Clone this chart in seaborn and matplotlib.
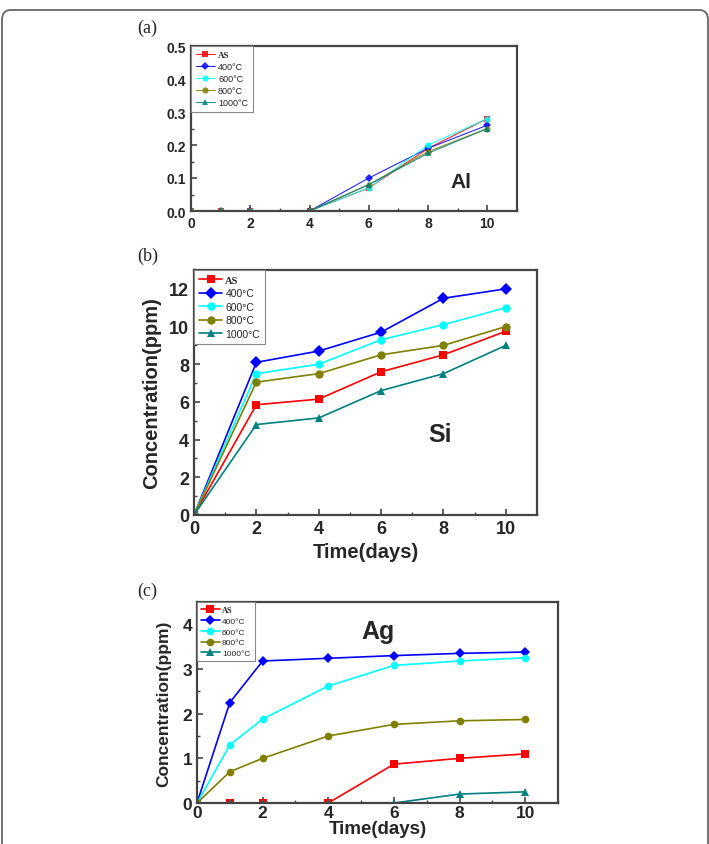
import matplotlib.pyplot as plt
import pandas as pd
import seaborn as sns
from matplotlib.patches import FancyBboxPatch
from matplotlib.ticker import MultipleLocator

# series shared by all three panels
series = ['AS', '400°C', '600°C', '800°C', '1000°C']
colors = ['#ff0000', '#0000ff', '#00ffff', '#808000', '#008080']
markers = ['s', 'D', 'o', 'o', '^']

# (a) Al release
al_days = [0, 1, 2, 4, 6, 8, 10]
al_as = [0, 0, 0, 0, 0.07, 0.19, 0.28]
al_400 = [0, 0, 0, 0, 0.10, 0.19, 0.26]
al_600 = [0, 0, 0, 0, 0.07, 0.20, 0.28]
al_800 = [0, 0, 0, 0, 0.08, 0.18, 0.25]
al_1000 = [0, 0, 0, 0, 0.08, 0.175, 0.25]

# (b) Si release
si_days = [0, 2, 4, 6, 8, 10]
si_as = [0, 5.85, 6.15, 7.6, 8.5, 9.75]
si_400 = [0, 8.1, 8.7, 9.7, 11.5, 12.0]
si_600 = [0, 7.5, 8.0, 9.3, 10.1, 11.0]
si_800 = [0, 7.05, 7.5, 8.5, 9.0, 10.0]
si_1000 = [0, 4.8, 5.15, 6.6, 7.5, 9.0]

# (c) Ag release
ag_days = [0, 1, 2, 4, 6, 8, 10]
ag_as = [0, 0, 0, 0, 0.87, 1.0, 1.1]
ag_400 = [0, 2.25, 3.18, 3.24, 3.3, 3.35, 3.38]
ag_600 = [0, 1.3, 1.88, 2.62, 3.08, 3.18, 3.25]
ag_800 = [0, 0.7, 1.0, 1.5, 1.76, 1.84, 1.87]
ag_1000 = [0, 0, 0, 0, 0, 0.2, 0.25]

sns.set_style('white')
plt.rcParams['font.family'] = ['Liberation Sans', 'DejaVu Sans']
plt.rcParams['font.weight'] = 'bold'


# long table for one panel
def make_df(days, values):
    rows = []
    for name, vals in zip(series, values):
        for d, v in zip(days, vals):
            rows.append({'day': d, 'conc': v, 'series': name})
    return pd.DataFrame(rows)


def draw_panel(ax, days, values, ms, lw, legend_fs, tick_fs, ymax, ymajor, yminor, alpha=1.0):
    df = make_df(days, values)
    sns.lineplot(
        data=df, x='day', y='conc',
        hue='series', style='series',
        hue_order=series, style_order=series,
        palette=dict(zip(series, colors)),
        markers=dict(zip(series, markers)),
        dashes=False, markersize=ms, linewidth=lw,
        markeredgewidth=0, alpha=alpha, ax=ax
    )
    ax.set_xlim(0, 11)
    ax.set_ylim(0, ymax)
    ax.xaxis.set_major_locator(MultipleLocator(2))
    ax.xaxis.set_minor_locator(MultipleLocator(1))
    ax.yaxis.set_major_locator(MultipleLocator(ymajor))
    ax.yaxis.set_minor_locator(MultipleLocator(yminor))
    ax.tick_params(which='both', direction='in', bottom=True, left=True,
                   top=False, right=False, labelsize=tick_fs, color='#444')
    ax.tick_params(which='major', length=4, width=1.2)
    ax.tick_params(which='minor', length=2, width=1)
    for s in ax.spines.values():
        s.set_color('#444')
        s.set_linewidth(1.6)
    for lab in ax.get_xticklabels() + ax.get_yticklabels():
        lab.set_fontweight('bold')
    ax.set_xlabel('')
    ax.set_ylabel('')

    sns.move_legend(ax, 'upper left', bbox_to_anchor=(0, 1), borderaxespad=0,
                    title=None, fontsize=legend_fs, frameon=True, fancybox=False,
                    edgecolor='#888', framealpha=1, handlelength=2.2,
                    labelspacing=0.35, handletextpad=0.3, borderpad=0.5)
    leg = ax.get_legend()
    leg.get_frame().set_linewidth(0.8)
    for t in leg.get_texts():
        t.set_fontweight('normal')
    leg.get_texts()[0].set_fontfamily('Liberation Serif')
    leg.get_texts()[0].set_fontweight('bold')


fig = plt.figure(figsize=(7.09, 8.45), dpi=100)
W, H = 709, 845


def add_axes(left, top, right, bottom):
    return fig.add_axes([left / W, 1 - bottom / H, (right - left) / W, (bottom - top) / H])


ax_a = add_axes(191, 47, 517, 212)
ax_b = add_axes(194, 271, 537, 516)
ax_c = add_axes(197, 603, 558, 804)

draw_panel(ax_a, al_days, [al_as, al_400, al_600, al_800, al_1000],
           ms=4.5, lw=0.8, legend_fs=6.5, tick_fs=10, ymax=0.5, ymajor=0.1, yminor=0.05, alpha=0.85)
ax_a.yaxis.set_major_formatter(plt.FormatStrFormatter('%.1f'))
ax_a.text(9.1, 0.09, 'Al', fontsize=15, fontweight='bold', ha='center', va='center')

draw_panel(ax_b, si_days, [si_as, si_400, si_600, si_800, si_1000],
           ms=6, lw=1.2, legend_fs=7.5, tick_fs=13, ymax=13, ymajor=2, yminor=1)
ax_b.set_xlabel('Time(days)', fontsize=14.5, fontweight='bold', labelpad=4)
ax_b.set_ylabel('Concentration(ppm)', fontsize=14.5, fontweight='bold', labelpad=6)
ax_b.text(7.9, 4.3, 'Si', fontsize=18, fontweight='bold', ha='center', va='center')

draw_panel(ax_c, ag_days, [ag_as, ag_400, ag_600, ag_800, ag_1000],
           ms=5.5, lw=1.2, legend_fs=6, tick_fs=12.5, ymax=4.5, ymajor=1, yminor=0.5)
ax_c.tick_params(axis='x', pad=1.5)
ax_c.set_xlabel('Time(days)', fontsize=13.5, fontweight='bold', labelpad=0)
ax_c.set_ylabel('Concentration(ppm)', fontsize=12.5, fontweight='bold', labelpad=8)
ax_c.text(5.5, 3.84, 'Ag', fontsize=18, fontweight='bold', ha='center', va='center')

# panel letters
for y, lab in [(28, '(a)'), (256, '(b)'), (591, '(c)')]:
    fig.text(137 / W, 1 - y / H, lab, family='Liberation Serif', fontsize=13,
             fontweight='normal', va='center')

# page frame
fig.patches.append(FancyBboxPatch((2 / W, -0.05), 706 / W, 1.05 - 11 / H,
                                  boxstyle='round,pad=0,rounding_size=0.012',
                                  transform=fig.transFigure, fill=False,
                                  ec='#666', lw=1.3))

plt.savefig('out.png', dpi=100)
